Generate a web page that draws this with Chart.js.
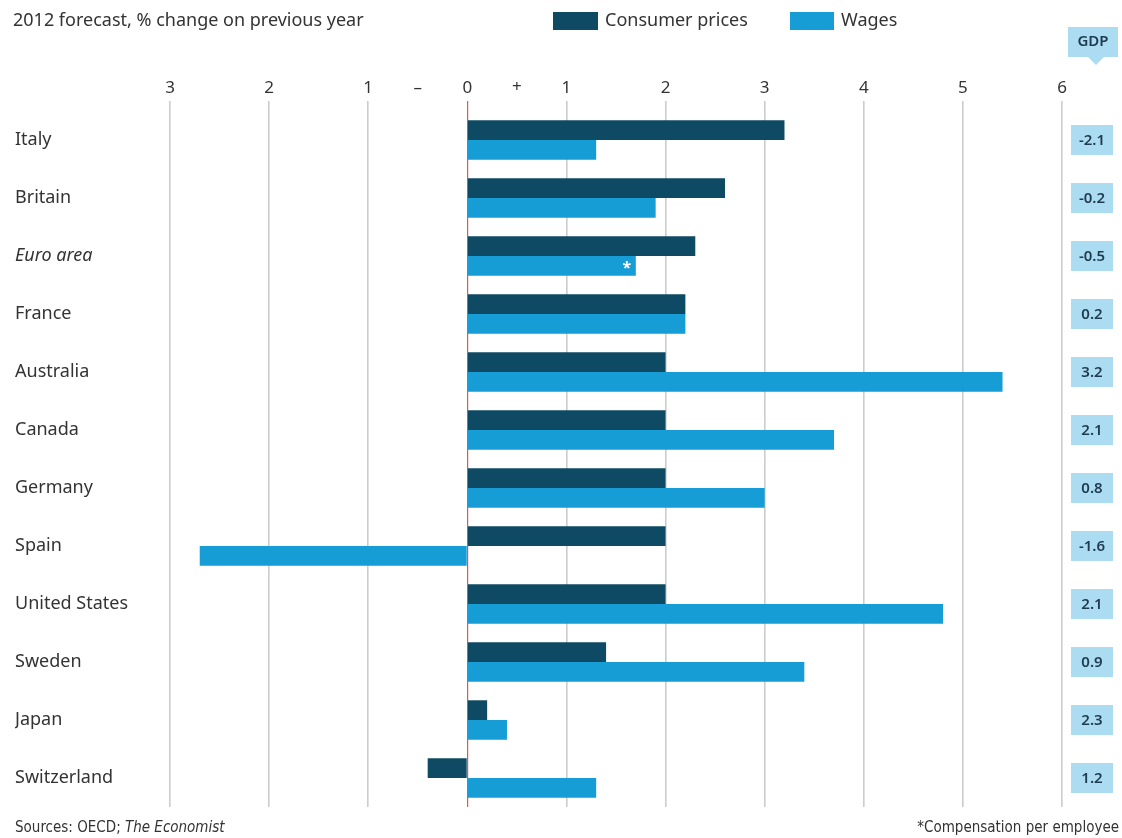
<!DOCTYPE html>
<html>
<head>
<meta charset="utf-8">
<script src="https://cdn.jsdelivr.net/npm/chart.js@4.4.1/dist/chart.umd.min.js"></script>
<style>
    html, body { margin: 0; padding: 0; background: #ffffff; }
    #wrap { width: 1122px; height: 838px; position: relative; }
</style>
</head>
<body>
<div id="wrap"><canvas id="wageChart" width="1122" height="838"></canvas></div>
<script>
// Data
const countries = ['Italy', 'Britain', 'Euro area', 'France', 'Australia', 'Canada',
    'Germany', 'Spain', 'United States', 'Sweden', 'Japan', 'Switzerland'];
const consumerPrices = [3.2, 2.6, 2.3, 2.2, 2.0, 2.0, 2.0, 2.0, 2.0, 1.4, 0.2, -0.4];
const wages = [1.3, 1.9, 1.7, 2.2, 5.4, 3.7, 3.0, -2.7, 4.8, 3.4, 0.4, 1.3];
const gdp = ['-2.1', '-0.2', '-0.5', '0.2', '3.2', '2.1', '0.8', '-1.6', '2.1', '0.9', '2.3', '1.2'];
const xTicks = [-3, -2, -1, 0, 1, 2, 3, 4, 5, 6];

const DARK = '#0e4a63';
const LIGHT = '#169dd6';
const GDP_BOX = '#abdcf2';
const TEXT = '#333333';
const FONT = '"Noto Sans", "Open Sans", sans-serif';
const NARROW = '"DejaVu Sans Condensed", "Liberation Sans Narrow", "Noto Sans", sans-serif';

// Draws subtitle, legend, GDP column, +/- signs, footnotes
const decorations = {
    id: 'decorations',
    afterDraw(chart) {
        const c = chart.ctx;
        const xs = chart.scales.x;
        const ys = chart.scales.y;
        c.save();

        // subtitle
        c.fillStyle = TEXT;
        c.font = '18px ' + FONT;
        c.textBaseline = 'middle';
        c.textAlign = 'left';
        c.fillText('2012 forecast, % change on previous year', 13, 21);

        // legend
        c.fillStyle = DARK;
        c.fillRect(553, 12, 45, 18);
        c.fillStyle = LIGHT;
        c.fillRect(790, 12, 44, 18);
        c.fillStyle = TEXT;
        c.fillText('Consumer prices', 605, 21);
        c.fillText('Wages', 841, 21);

        // - and + around zero
        c.font = '17px ' + FONT;
        c.textAlign = 'center';
        c.fillText('\u2013', xs.getPixelForValue(-0.5), 88);
        c.fillText('+', xs.getPixelForValue(0.5), 87);

        // GDP header with pointer
        c.fillStyle = GDP_BOX;
        c.fillRect(1068, 27, 50, 30);
        c.beginPath();
        c.moveTo(1088, 57);
        c.lineTo(1104, 57);
        c.lineTo(1096, 65);
        c.closePath();
        c.fill();
        c.fillStyle = '#1f3b4f';
        c.font = '600 15px ' + FONT;
        c.fillText('GDP', 1093, 42);

        // GDP values per country
        countries.forEach((name, i) => {
            const y = ys.getPixelForValue(i);
            c.fillStyle = GDP_BOX;
            c.fillRect(1071, y - 15, 42, 30);
            c.fillStyle = '#1f3b4f';
            c.fillText(gdp[i], 1092, y + 1);
        });

        // asterisk on euro-area wages bar
        const meta = chart.getDatasetMeta(1);
        const bar = meta.data[2];
        c.fillStyle = '#ffffff';
        c.font = 'bold 16px ' + FONT;
        c.fillText('*', bar.x - 9, bar.y + 3);

        // footnotes
        c.fillStyle = TEXT;
        c.font = '15px ' + NARROW;
        c.textAlign = 'left';
        c.fillText('Sources: OECD; ', 15, 828);
        const w = c.measureText('Sources: OECD; ').width;
        c.font = 'italic 15px ' + NARROW;
        c.fillText('The Economist', 15 + w, 828);
        c.font = '15px ' + NARROW;
        c.textAlign = 'right';
        c.fillText('*Compensation per employee', 1119, 828);

        c.restore();
    }
};

new Chart(document.getElementById('wageChart'), {
    type: 'bar',
    data: {
        labels: countries,
        datasets: [
            {
                label: 'Consumer prices',
                data: consumerPrices,
                backgroundColor: DARK,
                borderWidth: 0,
                categoryPercentage: 0.68,
                barPercentage: 1.0
            },
            {
                label: 'Wages',
                data: wages,
                backgroundColor: LIGHT,
                borderWidth: 0,
                categoryPercentage: 0.68,
                barPercentage: 1.0
            }
        ]
    },
    options: {
        indexAxis: 'y',
        responsive: false,
        animation: false,
        layout: {
            padding: { left: 15, right: 60, top: 60, bottom: 31 }
        },
        plugins: {
            legend: { display: false },
            tooltip: { enabled: false }
        },
        scales: {
            x: {
                position: 'top',
                min: xTicks[0],
                max: xTicks[xTicks.length - 1],
                afterBuildTicks: function (scale) {
                    scale.ticks = xTicks.map(v => ({ value: v }));
                },
                afterFit: function (scale) {
                    scale.height = 51;
                },
                border: { display: false },
                grid: {
                    color: ctx => (ctx.tick && ctx.tick.value === 0) ? '#e2574c' : '#cccccc',
                    lineWidth: ctx => (ctx.tick && ctx.tick.value === 0) ? 1.2 : 1.6,
                    tickLength: 10
                },
                ticks: {
                    padding: 3,
                    color: TEXT,
                    font: { family: FONT, size: 17 },
                    callback: function (value) {
                        return Math.abs(value);
                    }
                }
            },
            y: {
                afterFit: function (scale) {
                    scale.width = 155;
                },
                border: { display: false },
                grid: { display: false },
                ticks: {
                    crossAlign: 'far',
                    padding: 15,
                    color: TEXT,
                    font: ctx => ({
                        family: FONT,
                        size: 18,
                        style: ctx.index === 2 ? 'italic' : 'normal'
                    })
                }
            }
        }
    },
    plugins: [decorations]
});
</script>
</body>
</html>
